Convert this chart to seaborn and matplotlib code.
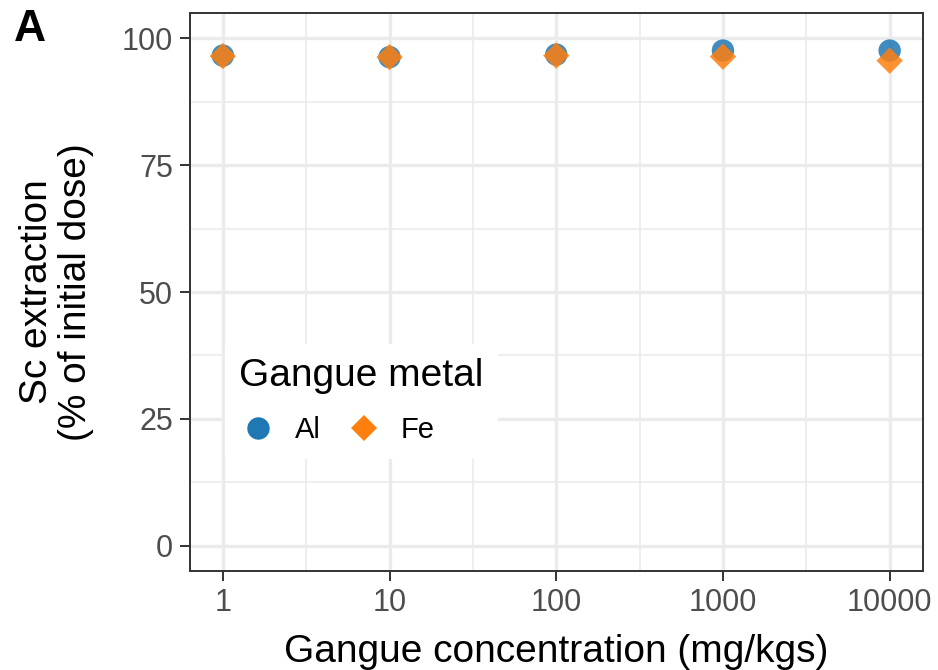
import numpy as np
import pandas as pd
import matplotlib
matplotlib.use("Agg")
import matplotlib.pyplot as plt
import seaborn as sns
from matplotlib.ticker import FixedLocator

concentrations = [1, 10, 100, 1000, 10000]
al_extraction = [96.6, 96.3, 96.8, 97.6, 97.6]
fe_extraction = [96.5, 96.3, 96.6, 96.4, 95.6]
metals = ["Al", "Fe"]
x_tick_labels = ["1", "10", "100", "1000", "10000"]
y_ticks = [0, 25, 50, 75, 100]

df = pd.DataFrame({
    "conc": concentrations * 2,
    "ext": al_extraction + fe_extraction,
    "metal": ["Al"] * len(concentrations) + ["Fe"] * len(concentrations),
})

sns.set_theme(style="white")
plt.rcParams["font.family"] = ["Liberation Sans", "DejaVu Sans"]

fig = plt.figure(figsize=(9.38, 6.70), dpi=100)
ax = fig.add_axes([189.5 / 938, 1 - 571 / 670, (923 - 189.5) / 938, (571 - 13) / 670])

sns.scatterplot(data=df, x="conc", y="ext", hue="metal", style="metal", size="metal",
                hue_order=metals, style_order=metals, size_order=metals,
                sizes={"Al": 260, "Fe": 180},
                palette={"Al": "#1f77b4", "Fe": "#ff7f0e"},
                markers={"Al": "o", "Fe": "D"},
                alpha=0.85, linewidth=0, ax=ax, zorder=3)

ax.set_xscale("log")
ax.set_xlim(10 ** -0.2, 10 ** 4.2)
ax.set_ylim(-5, 105)
ax.xaxis.set_major_locator(FixedLocator(concentrations))
ax.set_xticklabels(x_tick_labels)
ax.xaxis.set_minor_locator(FixedLocator([10 ** (i + 0.5) for i in range(4)]))
ax.set_yticks(y_ticks)
ax.yaxis.set_minor_locator(FixedLocator([12.5, 37.5, 62.5, 87.5]))

ax.grid(which="major", color="#ebebeb", linewidth=2.4)
ax.grid(which="minor", color="#ebebeb", linewidth=1.2)
ax.set_axisbelow(True)
for sp in ax.spines.values():
    sp.set_color("#333333")
    sp.set_linewidth(1.4)

ax.tick_params(axis="both", which="major", length=7, width=1.4, color="#333333",
               labelsize=22, labelcolor="#4d4d4d", pad=5, bottom=True, left=True)
ax.tick_params(axis="both", which="minor", length=0)

ax.set_xlabel("Gangue concentration (mg/kgs)", fontsize=28, color="black", labelpad=12)
ax.set_ylabel("Sc extraction\n(% of initial dose)", fontsize=28, color="black",
              labelpad=20, linespacing=1.1)

handles, labels = ax.get_legend_handles_labels()
for h in handles:
    h.set_alpha(1)
    try:
        h.set_sizes([h.get_sizes()[0] * 1.4])
    except Exception:
        pass
leg = ax.legend(handles, labels, title="Gangue metal", ncol=2, loc="upper left",
                bbox_to_anchor=((210 - 189.5) / 733.5, 1 - (329 - 13) / 558),
                frameon=True, fontsize=21, title_fontsize=28,
                handletextpad=0.6, columnspacing=0.85, markerscale=1.0,
                borderpad=0.5, handlelength=1.3, labelspacing=0.5)
leg.get_frame().set_edgecolor("none")
leg.get_frame().set_facecolor("white")
leg.get_frame().set_alpha(1)
leg.get_title().set_color("black")
for t in leg.get_texts():
    t.set_color("black")
leg._legend_box.align = "left"
leg._legend_box.sep = 16

fig.text(14 / 938, 1 - 41 / 670, "A", fontsize=32, fontweight="bold", color="black")

fig.savefig("out.png", dpi=100)
